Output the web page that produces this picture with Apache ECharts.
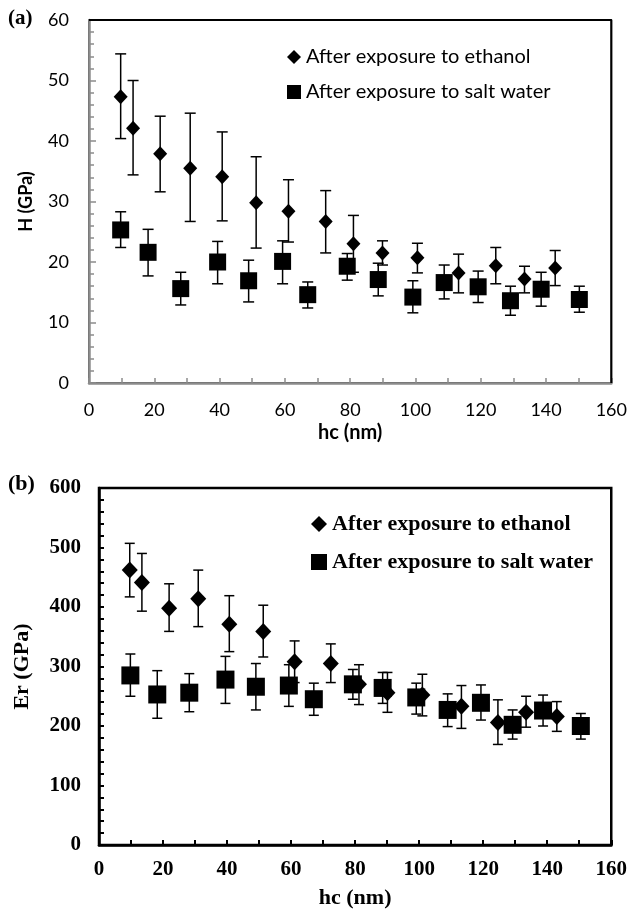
<!DOCTYPE html>
<html>
<head>
<meta charset="utf-8">
<script src="https://cdn.jsdelivr.net/npm/echarts@6/dist/echarts.min.js"></script>
<style>
html,body{margin:0;padding:0;background:#fff;}
#main{width:630px;height:910px;}
</style>
</head>
<body>
<div id="main"></div>
<script>
// (a) hardness
var hcEthA  = [9.7, 13.5, 21.8, 31.0, 40.8, 51.2, 61.1, 72.5, 81.0, 89.9, 100.6, 113.2, 124.6, 133.4, 142.8];
var hEth    = [47.3, 42.1, 37.9, 35.5, 34.1, 29.8, 28.4, 26.7, 23.0, 21.5, 20.7, 18.2, 19.4, 17.2, 19.0];
var hEthHi  = [54.4, 50.0, 44.1, 44.6, 41.5, 37.4, 33.6, 31.8, 27.7, 23.5, 23.1, 21.3, 22.4, 19.3, 21.9];
var hEthLo  = [40.4, 34.4, 31.6, 26.7, 26.8, 22.3, 23.3, 21.5, 18.3, 19.5, 18.2, 14.9, 16.4, 14.9, 16.1];

var hcSaltA = [9.7, 18.1, 28.1, 39.4, 48.9, 59.3, 67.0, 79.1, 88.6, 99.2, 108.8, 119.2, 129.1, 138.5, 150.2];
var hSalt   = [25.3, 21.6, 15.6, 20.0, 16.9, 20.1, 14.6, 19.3, 17.1, 14.2, 16.6, 15.9, 13.6, 15.5, 13.8];
var hSaltHi = [28.3, 25.4, 18.3, 23.4, 20.3, 23.5, 16.7, 21.4, 19.8, 16.9, 19.5, 18.5, 16.0, 18.3, 16.0];
var hSaltLo = [22.4, 17.7, 12.9, 16.4, 13.4, 16.4, 12.4, 17.0, 14.4, 11.6, 13.9, 13.3, 11.2, 12.7, 11.7];

// (b) reduced modulus
var hcEthB   = [9.6, 13.4, 21.9, 31.0, 40.7, 51.3, 61.1, 72.4, 81.2, 90.1, 101.0, 113.2, 124.6, 133.4, 143.0];
var erEth    = [462, 441, 398, 414, 371, 359, 308, 305, 270, 256, 252, 233, 206, 223, 216];
var erEthHi  = [507, 490, 439, 462, 419, 403, 343, 338, 303, 290, 287, 268, 244, 250, 241];
var erEthLo  = [417, 393, 359, 367, 325, 316, 273, 273, 236, 223, 217, 196, 169, 198, 191];

var hcSaltB  = [9.8, 18.2, 28.2, 39.5, 49.0, 59.3, 67.1, 79.3, 88.6, 99.1, 108.9, 119.3, 129.2, 138.7, 150.5];
var erSalt   = [285, 253, 256, 278, 266, 268, 245, 270, 264, 248, 227, 239, 202, 226, 200];
var erSaltHi = [321, 293, 288, 317, 305, 303, 272, 295, 290, 272, 254, 269, 227, 252, 221];
var erSaltLo = [250, 213, 224, 238, 227, 233, 218, 245, 238, 220, 199, 210, 178, 200, 178];

// frame of panel (a): top and right edges, at the axis extents
var frameA = [[0, 60], [160, 60], [160, 0]];

var nameEth = 'After exposure to ethanol';
var nameSalt = 'After exposure to salt water';

var sansA = 'Lato';
var serifB = 'Liberation Serif';

function pts(xs, ys){
	var out = [];
	for(var i=0;i<xs.length;i++){ out.push([xs[i], ys[i]]); }
	return out;
}
function bars(xs, lo, hi){
	var out = [];
	for(var i=0;i<xs.length;i++){ out.push([xs[i], lo[i], hi[i]]); }
	return out;
}

// error bar drawn through the axes
function errBar(capW){
	return function(params, api){
		var x = api.value(0);
		var lo = api.coord([x, api.value(1)]);
		var hi = api.coord([x, api.value(2)]);
		var st = {stroke:'#000', lineWidth:1.5};
		return {
			type:'group',
			children:[
				{type:'line', shape:{x1:lo[0], y1:lo[1], x2:hi[0], y2:hi[1]}, style:st},
				{type:'line', shape:{x1:hi[0]-capW/2, y1:hi[1], x2:hi[0]+capW/2, y2:hi[1]}, style:st},
				{type:'line', shape:{x1:lo[0]-capW/2, y1:lo[1], x2:lo[0]+capW/2, y2:lo[1]}, style:st}
			]
		};
	};
}

var myChart = echarts.init(document.getElementById('main'));

var option = {
	animation:false,
	graphic:[
		{type:'text', left:8, top:8, style:{text:'(a)', font:'bold 21px "Liberation Serif"', fill:'#000'}},
		{type:'text', left:8, top:473, style:{text:'(b)', font:'bold 22px "Liberation Serif"', fill:'#000'}}
	],
	grid:[
		{left:89, top:20, width:523, height:363, show:true, borderColor:'#000', borderWidth:1.5},
		{left:99, top:488, width:515, height:361, show:true, borderColor:'#000', borderWidth:2.5}
	],
	legend:[
		{
			orient:'vertical', left:282, top:42, itemGap:15,
			itemWidth:14, itemHeight:14,
			textStyle:{fontFamily:sansA, fontSize:20, color:'#000'},
			data:[{name:nameEth, icon:'diamond'}, {name:nameSalt, icon:'rect'}],
			selectedMode:false
		},
		{
			orient:'vertical', left:306, top:508, itemGap:16,
			itemWidth:16, itemHeight:16,
			textStyle:{fontFamily:serifB, fontWeight:'bold', fontSize:22, color:'#000'},
			data:[{name:nameEth, icon:'diamond'}, {name:nameSalt, icon:'rect'}],
			selectedMode:false
		}
	],
	xAxis:[
		{
			gridIndex:0, type:'value', min:0, max:160, interval:20,
			name:'hc (nm)', nameLocation:'middle', nameGap:40,
			nameTextStyle:{fontFamily:sansA, fontWeight:'bold', fontSize:20, color:'#000'},
			axisLine:{show:true, lineStyle:{color:'#8c8c8c', width:2.5}},
			axisTick:{inside:true, length:5, lineStyle:{color:'#8c8c8c', width:1.5}},
			minorTick:{show:true, splitNumber:2, length:5, lineStyle:{color:'#8c8c8c', width:1.5}},
			axisLabel:{fontFamily:sansA, fontSize:18, color:'#000', margin:18},
			splitLine:{show:false}
		},
		{
			gridIndex:1, type:'value', min:0, max:160, interval:20,
			name:'hc (nm)', nameLocation:'middle', nameGap:42,
			nameTextStyle:{fontFamily:serifB, fontWeight:'bold', fontSize:22, color:'#000'},
			axisLine:{show:true, lineStyle:{color:'#000', width:2.5}},
			axisTick:{inside:true, length:5, lineStyle:{color:'#000', width:2}},
			minorTick:{show:true, splitNumber:2, length:5, lineStyle:{color:'#000', width:2}},
			axisLabel:{fontFamily:serifB, fontWeight:'bold', fontSize:21, color:'#000', margin:14},
			splitLine:{show:false}
		}
	],
	yAxis:[
		{
			gridIndex:0, type:'value', min:0, max:60, interval:10,
			name:'H (GPa)', nameLocation:'middle', nameGap:54,
			nameTextStyle:{fontFamily:sansA, fontWeight:'bold', fontSize:18, color:'#000'},
			axisLine:{show:true, lineStyle:{color:'#8c8c8c', width:2.5}},
			axisTick:{inside:true, length:7, lineStyle:{color:'#8c8c8c', width:1.5}},
			minorTick:{show:true, splitNumber:5, length:5, lineStyle:{color:'#8c8c8c', width:1.5}},
			axisLabel:{fontFamily:sansA, fontSize:18, color:'#000', margin:20},
			splitLine:{show:false}
		},
		{
			gridIndex:1, type:'value', min:0, max:600, interval:100,
			name:'Er (GPa)', nameLocation:'middle', nameGap:66,
			nameTextStyle:{fontFamily:serifB, fontWeight:'bold', fontSize:22, color:'#000'},
			axisLine:{show:true, lineStyle:{color:'#000', width:2.5}},
			axisTick:{inside:true, length:5, lineStyle:{color:'#000', width:2}},
			minorTick:{show:true, splitNumber:5, length:5, lineStyle:{color:'#000', width:2}},
			axisLabel:{fontFamily:serifB, fontWeight:'bold', fontSize:21, color:'#000', margin:18},
			splitLine:{show:false}
		}
	],
	series:[
		// top/right frame of (a), drawn through the axes
		{type:'line', xAxisIndex:0, yAxisIndex:0, data:frameA, symbol:'none', clip:false, silent:true,
			lineStyle:{color:'#000', width:2}, z:10},

		{type:'custom', xAxisIndex:0, yAxisIndex:0, renderItem:errBar(11), data:bars(hcEthA, hEthLo, hEthHi), z:1},
		{type:'custom', xAxisIndex:0, yAxisIndex:0, renderItem:errBar(11), data:bars(hcSaltA, hSaltLo, hSaltHi), z:1},
		{name:nameEth, type:'scatter', xAxisIndex:0, yAxisIndex:0, symbol:'diamond', symbolSize:[14,15],
			itemStyle:{color:'#000', opacity:1}, data:pts(hcEthA, hEth), z:3},
		{name:nameSalt, type:'scatter', xAxisIndex:0, yAxisIndex:0, symbol:'rect', symbolSize:17,
			itemStyle:{color:'#000', opacity:1}, data:pts(hcSaltA, hSalt), z:3},

		{type:'custom', xAxisIndex:1, yAxisIndex:1, renderItem:errBar(10), data:bars(hcEthB, erEthLo, erEthHi), z:1},
		{type:'custom', xAxisIndex:1, yAxisIndex:1, renderItem:errBar(10), data:bars(hcSaltB, erSaltLo, erSaltHi), z:1},
		{name:nameEth, type:'scatter', xAxisIndex:1, yAxisIndex:1, symbol:'diamond', symbolSize:[16,17],
			itemStyle:{color:'#000', opacity:1}, data:pts(hcEthB, erEth), z:3},
		{name:nameSalt, type:'scatter', xAxisIndex:1, yAxisIndex:1, symbol:'rect', symbolSize:18,
			itemStyle:{color:'#000', opacity:1}, data:pts(hcSaltB, erSalt), z:3}
	]
};

myChart.setOption(option);
</script>
</body>
</html>
